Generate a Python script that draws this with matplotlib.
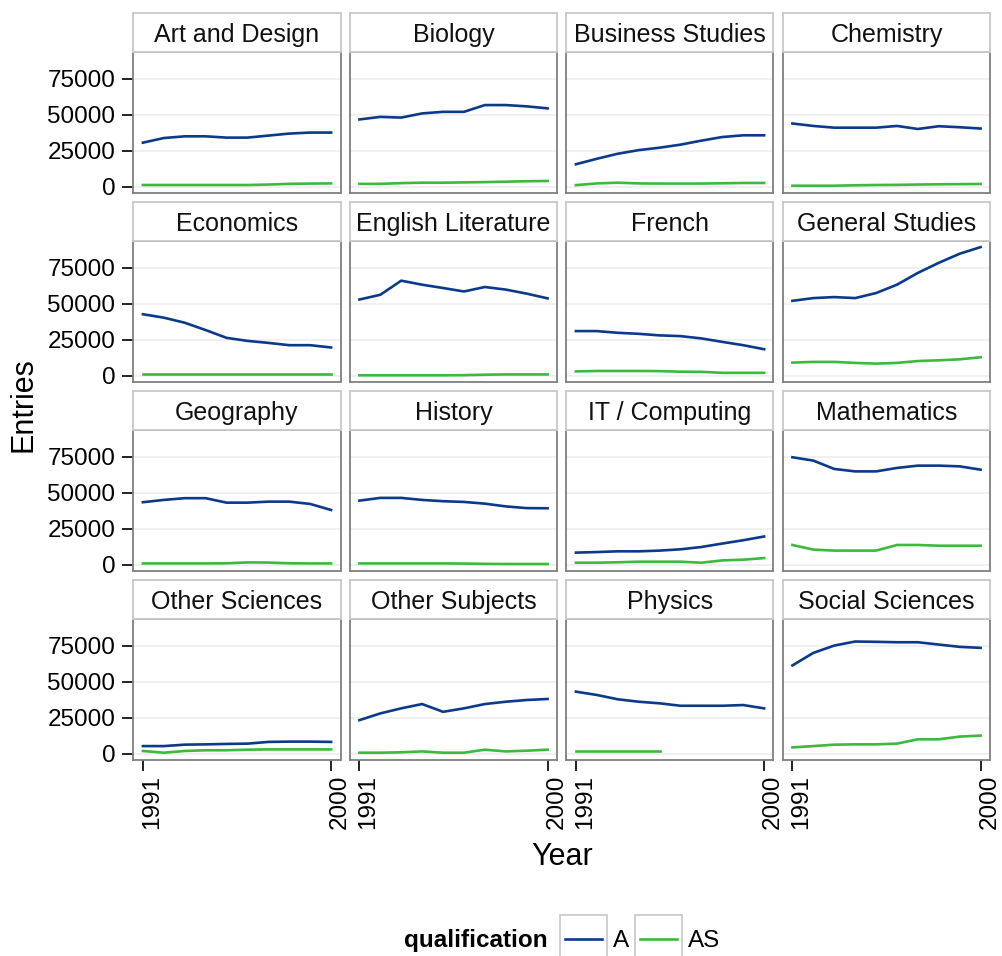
import numpy as np
import matplotlib
matplotlib.use("Agg")
import matplotlib.pyplot as plt
from matplotlib.patches import Rectangle
from matplotlib.lines import Line2D
from matplotlib.transforms import ScaledTranslation

plt.rcParams['font.family'] = ['Liberation Sans', 'DejaVu Sans']

years = list(range(1991, 2001))
subjects = ["Art and Design", "Biology", "Business Studies", "Chemistry",
            "Economics", "English Literature", "French", "General Studies",
            "Geography", "History", "IT / Computing", "Mathematics",
            "Other Sciences", "Other Subjects", "Physics", "Social Sciences"]

nan = np.nan
entries_A = [
    [30600, 33800, 35000, 35000, 34100, 34100, 35500, 36900, 37600, 37600],
    [46700, 48500, 48000, 50900, 52000, 52000, 56700, 56700, 55800, 54400],
    [15600, 19400, 22900, 25400, 27100, 29200, 32000, 34500, 35700, 35700],
    [43900, 42200, 41000, 41000, 41000, 42200, 40100, 42000, 41300, 40400],
    [42700, 40300, 36800, 31700, 26300, 24200, 22800, 21200, 21200, 19600],
    [52900, 56200, 66000, 63200, 60900, 58500, 61600, 59800, 57000, 53700],
    [31000, 31000, 29800, 29100, 28000, 27500, 25900, 23500, 21200, 18400],
    [52000, 53900, 54600, 53900, 57400, 63200, 71400, 78400, 84700, 89300],
    [43400, 45000, 46200, 46200, 43100, 43100, 43800, 43800, 42200, 38000],
    [44500, 46400, 46400, 45000, 44100, 43600, 42400, 40500, 39300, 39200],
    [8400, 8800, 9300, 9300, 9800, 10700, 12300, 14700, 17000, 19600],
    [74600, 72300, 66500, 64800, 64800, 67200, 68800, 68800, 68300, 66000],
    [5300, 5300, 6300, 6500, 6800, 7000, 8200, 8400, 8400, 8200],
    [23300, 28000, 31500, 34500, 29100, 31500, 34500, 36100, 37300, 38000],
    [43100, 40800, 37800, 36100, 35000, 33300, 33300, 33300, 33800, 31500],
    [61300, 70000, 75100, 77900, 77700, 77400, 77400, 75800, 74200, 73500],
]
entries_AS = [
    [1200, 1200, 1200, 1200, 1200, 1200, 1500, 2000, 2200, 2300],
    [2000, 2000, 2500, 2800, 2800, 3000, 3200, 3500, 3800, 4000],
    [1100, 2300, 2800, 2300, 2200, 2200, 2200, 2400, 2600, 2600],
    [700, 700, 700, 1000, 1200, 1300, 1500, 1700, 1800, 1900],
    [900, 900, 900, 900, 900, 900, 900, 900, 900, 900],
    [300, 300, 300, 300, 300, 400, 700, 900, 900, 900],
    [3000, 3300, 3300, 3300, 3200, 2800, 2700, 2000, 2000, 2000],
    [9100, 9600, 9600, 8900, 8400, 8900, 10200, 10700, 11400, 12800],
    [900, 900, 900, 900, 1000, 1600, 1500, 1000, 900, 900],
    [900, 900, 900, 900, 900, 800, 600, 500, 500, 500],
    [1400, 1400, 1700, 2100, 2100, 2100, 1400, 3000, 3500, 4600],
    [13700, 10500, 9800, 9800, 9800, 13700, 13700, 13200, 13200, 13200],
    [1900, 700, 1900, 2400, 2400, 2800, 3000, 3000, 3000, 3000],
    [700, 700, 1000, 1600, 700, 700, 2800, 1600, 2100, 2800],
    [1600, 1600, 1600, 1600, 1600, nan, nan, nan, nan, nan],
    [4400, 5300, 6300, 6500, 6500, 7000, 10000, 10000, 11900, 12600],
]
qualifications = ["A", "AS"]
colors = {"A": "#0B3A8A", "AS": "#3DB93D"}
y_ticks = [0, 25000, 50000, 75000]
x_ticks = [1991, 2000]

W, H = 1003, 956
fig = plt.figure(figsize=(W / 100, H / 100), dpi=100)

col_left = [133.5, 350.0, 566.5, 783.0]
panel_w = 207.0
row_top = [51.7, 240.7, 429.7, 618.7]
panel_h = 141.0
strip_h = 38.5

allv = np.array(entries_A + entries_AS, dtype=float)
vmin, vmax = np.nanmin(allv), np.nanmax(allv)
pad = 0.05 * (vmax - vmin)
ylim = (vmin - pad, vmax + pad)
xpad = 0.05 * (years[-1] - years[0])
xlim = (years[0] - xpad, years[-1] + xpad)

shift = ScaledTranslation(9 / 100, 0, fig.dpi_scale_trans)

for i, subj in enumerate(subjects):
    r, c = divmod(i, 4)
    x0 = col_left[c]
    y0 = row_top[r]
    ax = fig.add_axes([x0 / W, 1 - (y0 + panel_h) / H, panel_w / W, panel_h / H])
    ax.set_xlim(*xlim)
    ax.set_ylim(*ylim)
    for yt in y_ticks:
        ax.axhline(yt, color="#EEEEEE", lw=1.2, zorder=0)
    ax.plot(years, entries_A[i], color=colors["A"], lw=1.9, zorder=3)
    ax.plot(years, entries_AS[i], color=colors["AS"], lw=1.9, zorder=3)
    for sp in ax.spines.values():
        sp.set_color("#7F7F7F")
        sp.set_linewidth(1.3)
    ax.set_yticks(y_ticks)
    ax.set_xticks(x_ticks)
    ax.tick_params(axis="both", length=8, width=1.4, color="#222222",
                   labelsize=17.5, labelcolor="black", pad=5)
    if c == 0:
        ax.set_yticklabels([str(v) for v in y_ticks])
    else:
        ax.tick_params(axis="y", length=0, labelleft=False)
    if r == 3:
        ax.set_xticklabels([str(v) for v in x_ticks], rotation=90)
        ax.tick_params(axis="x", pad=3)
        for lab in ax.get_xticklabels():
            lab.set_transform(lab.get_transform() + shift)
    else:
        ax.tick_params(axis="x", length=0, labelbottom=False)
    # strip
    sax = fig.add_axes([x0 / W, 1 - y0 / H, panel_w / W, strip_h / H])
    sax.set_xticks([])
    sax.set_yticks([])
    sax.set_facecolor("white")
    for sp in sax.spines.values():
        sp.set_color("#C8C8C8")
        sp.set_linewidth(1.3)
    sax.text(0.5, 0.245, subj, ha="center", va="baseline", fontsize=18,
             color="#111111", transform=sax.transAxes)

# axis titles
fig.text(24 / W, 1 - 405 / H, "Entries", rotation=90, ha="center", va="center",
         fontsize=22)
fig.text(562 / W, 1 - 857 / H, "Year", ha="center", va="center", fontsize=22)

# legend (clipped at bottom as in reference)
fig.text(548 / W, 1 - 941 / H, "qualification", ha="right", va="center",
         fontsize=17.5, fontweight="bold")
key_boxes = [(560, "A", 613), (635, "AS", 688)]
for kx, q, tx in key_boxes:
    fig.patches.append(Rectangle((kx / W, 1 - 975 / H), 47 / W, 60 / H,
                                 transform=fig.transFigure, facecolor="white",
                                 edgecolor="#CCCCCC", lw=1.3))
    fig.lines.append(Line2D([(kx + 5) / W, (kx + 42) / W], [1 - 939 / H, 1 - 939 / H],
                            transform=fig.transFigure, color=colors[q], lw=1.9))
    fig.text(tx / W, 1 - 941 / H, q, ha="left", va="center", fontsize=17.5)

fig.savefig("out.png", dpi=100, facecolor="white")
